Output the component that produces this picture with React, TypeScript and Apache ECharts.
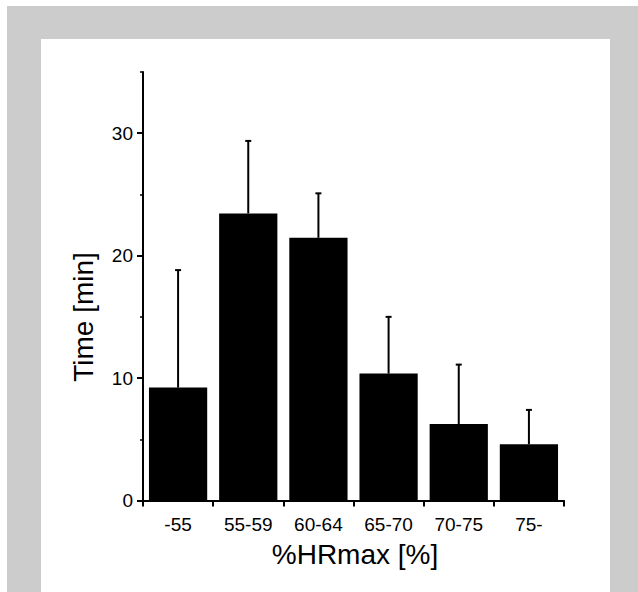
import React, { useEffect, useRef } from "react";
import * as echarts from "echarts";

const categories = ["-55", "55-59", "60-64", "65-70", "70-75", "75-"];
const means = [9.22, 23.45, 21.46, 10.37, 6.25, 4.6];
const errors = [9.6, 5.92, 3.63, 4.63, 4.85, 2.8];
const majorTicks = [0, 10, 20, 30];
const minorTicks = [5, 15, 25, 35];
const xTitle = "%HRmax [%]";
const yTitle = "Time [min]";

const FONT = "Liberation Sans";

export default function App() {
  const ref = useRef<HTMLDivElement>(null);

  useEffect(() => {
    if (!ref.current) return;
    const chart = echarts.init(ref.current, undefined, { renderer: "svg" });
    const errData = categories.map((_, i) => [i, means[i], errors[i]]);
    chart.setOption({
      animation: false,
      textStyle: { fontFamily: FONT },
      grid: { left: 143, right: 74, top: 72, bottom: 91.5, containLabel: false },
      xAxis: {
        type: "category",
        data: categories,
        boundaryGap: true,
        axisLine: { show: true, lineStyle: { color: "#000", width: 2 } },
        axisTick: { show: true, alignWithLabel: false, length: 6, lineStyle: { color: "#000", width: 2 } },
        axisLabel: { color: "#000", fontSize: 19, fontFamily: FONT, margin: 14, interval: 0 },
        splitLine: { show: false },
      },
      yAxis: [
        {
          type: "value",
          position: "left",
          min: 0,
          max: 35,
          interval: 5,
          axisLine: { show: true, lineStyle: { color: "#000", width: 2 } },
          axisTick: { show: true, length: 3, customValues: minorTicks, lineStyle: { color: "#000", width: 1.5 } },
          axisLabel: { show: false },
          splitLine: { show: false },
        },
        {
          type: "value",
          position: "left",
          min: 0,
          max: 35,
          interval: 5,
          axisLine: { show: false },
          axisTick: { show: true, length: 6, customValues: majorTicks, lineStyle: { color: "#000", width: 2 } },
          axisLabel: { show: true, customValues: majorTicks, color: "#000", fontSize: 19, fontFamily: FONT, margin: 10 },
          splitLine: { show: false },
        },
      ],
      graphic: [
        {
          type: "text",
          x: 83,
          y: 317,
          rotation: Math.PI / 2,
          style: {
            text: yTitle,
            fill: "#000",
            fontSize: 28,
            fontFamily: FONT,
            align: "center",
            verticalAlign: "middle",
          },
        },
        {
          type: "text",
          x: 355,
          y: 554,
          style: {
            text: xTitle,
            fill: "#000",
            fontSize: 28,
            fontFamily: FONT,
            align: "center",
            verticalAlign: "middle",
          },
        },
      ],
      series: [
        {
          type: "bar",
          data: means,
          yAxisIndex: 0,
          barCategoryGap: "17%",
          itemStyle: { color: "#000" },
          z: 2,
        },
        {
          type: "custom",
          yAxisIndex: 0,
          data: errData,
          encode: { x: 0, y: 1 },
          z: 3,
          renderItem: (params: any, api: any) => {
            const i = api.value(0);
            const m = api.value(1);
            const e = api.value(2);
            const base = api.coord([i, m]);
            const top = api.coord([i, m + e]);
            return {
              type: "group",
              children: [
                {
                  type: "line",
                  shape: { x1: base[0], y1: base[1], x2: top[0], y2: top[1] },
                  style: { stroke: "#000", lineWidth: 2 },
                },
                {
                  type: "line",
                  shape: { x1: top[0] - 3, y1: top[1], x2: top[0] + 3, y2: top[1] },
                  style: { stroke: "#000", lineWidth: 2 },
                },
              ],
            };
          },
        },
      ],
    });
    return () => chart.dispose();
  }, []);

  return (
    <div style={{ position: "absolute", left: 0, top: 0, width: 638, height: 592, background: "#fff", overflow: "hidden" }}>
      <div style={{ position: "absolute", left: 7, top: 6, right: 0, bottom: 0, background: "#cccccc" }} />
      <div style={{ position: "absolute", left: 41, top: 39, width: 569, bottom: 0, background: "#fff" }} />
      <div ref={ref} style={{ position: "absolute", left: 0, top: 0, width: 638, height: 592 }} />
    </div>
  );
}
